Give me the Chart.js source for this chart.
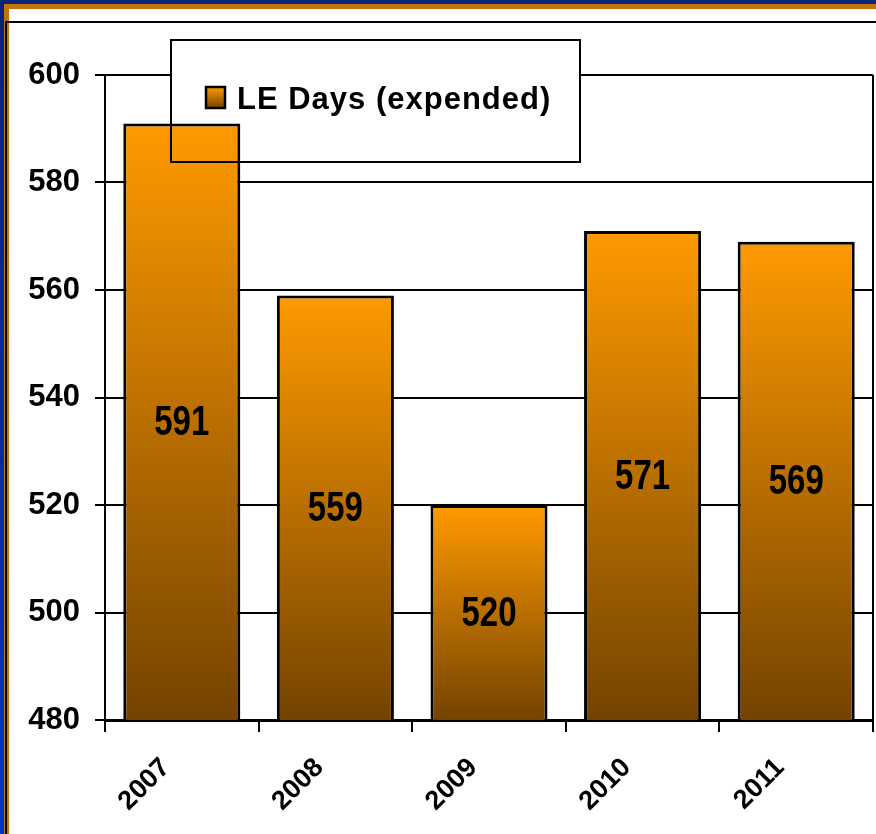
<!DOCTYPE html>
<html><head><meta charset="utf-8">
<script src="https://cdn.jsdelivr.net/npm/chart.js@4/dist/chart.umd.min.js"></script>
<style>html,body{margin:0;padding:0;background:#fff;overflow:hidden}canvas{display:block}</style>
</head><body>
<canvas id="c" width="876" height="834"></canvas>
<script>
const categories = ['2007', '2008', '2009', '2010', '2011'];
const leDays = [591, 559, 520, 571, 569];
const seriesLabel = 'LE Days (expended)';
const yMin = 480, yMax = 600, yStep = 20;

const FONT = '"Liberation Sans", Arial, sans-serif';

function barGradient(ctx, top, bottom) {
  const g = ctx.createLinearGradient(0, top, 0, bottom);
  g.addColorStop(0, '#FF9A00');
  g.addColorStop(1, '#744300');
  return g;
}

const framePlugin = {
  id: 'frame',
  beforeDraw(chart) {
    const ctx = chart.ctx, W = chart.width, H = chart.height;
    ctx.save();
    ctx.fillStyle = '#fff'; ctx.fillRect(0, 0, W, H);
    ctx.fillStyle = '#c27208'; ctx.fillRect(0, 0, W, 9); ctx.fillRect(0, 0, 9, H);
    ctx.fillStyle = '#0b2377'; ctx.fillRect(0, 0, W, 4);
    const lg = ctx.createLinearGradient(0, 0, 0, H);
    lg.addColorStop(0, '#0b2377'); lg.addColorStop(1, '#0036cc');
    ctx.fillStyle = lg; ctx.fillRect(0, 0, 4, H);
    ctx.fillStyle = '#000'; ctx.fillRect(5, 21, W - 5, 2); ctx.fillRect(5, 21, 2, H - 21);
    ctx.restore();
  }
};

const legendBox = { x: 171, y: 40, w: 409, h: 122 };

const overlayPlugin = {
  id: 'overlay',
  beforeDatasetsDraw(chart) {
    const ctx = chart.ctx, a = chart.chartArea;
    ctx.save();
    ctx.strokeStyle = '#000'; ctx.lineWidth = 2;
    ctx.beginPath(); ctx.moveTo(a.right, a.top); ctx.lineTo(a.right, a.bottom); ctx.stroke();
    ctx.fillStyle = '#fff';
    ctx.fillRect(legendBox.x, legendBox.y, legendBox.w, legendBox.h);
    ctx.restore();
  },
  afterDatasetsDraw(chart) {
    const ctx = chart.ctx;
    ctx.save();
    ctx.strokeStyle = '#000'; ctx.lineWidth = 2;
    ctx.strokeRect(legendBox.x, legendBox.y, legendBox.w, legendBox.h);
    const sx = 206, sy = 87, sw = 19, sh = 21;
    ctx.fillStyle = barGradient(ctx, sy, sy + sh);
    ctx.fillRect(sx, sy, sw, sh);
    ctx.lineWidth = 2.5;
    ctx.strokeRect(sx, sy, sw, sh);
    ctx.fillStyle = '#000';
    ctx.font = 'bold 31px ' + FONT;
    ctx.textBaseline = 'alphabetic';
    ctx.textAlign = 'left';
    if ('letterSpacing' in ctx) ctx.letterSpacing = '1px';
    ctx.fillText(chart.data.datasets[0].label, 237, 109);
    if ('letterSpacing' in ctx) ctx.letterSpacing = '0px';
    ctx.restore();
  },
  afterDraw(chart) {
    const ctx = chart.ctx;
    const xs = chart.scales.x, ys = chart.scales.y;
    const vals = chart.data.datasets[0].data;
    ctx.save();
    ctx.fillStyle = '#000';
    ctx.font = 'bold 33px ' + FONT;
    ctx.textAlign = 'center';
    ctx.textBaseline = 'middle';
    for (let i = 0; i < vals.length; i++) {
      const x = xs.getPixelForValue(i);
      const yTop = ys.getPixelForValue(vals[i]);
      const yBase = ys.getPixelForValue(yMin);
      const yc = (yTop + yBase) / 2;
      ctx.save();
      ctx.translate(x, yc);
      ctx.scale(1, 1.3);
      ctx.fillText(String(vals[i]), 0, 1);
      ctx.restore();
    }
    ctx.restore();
  }
};

new Chart(document.getElementById('c'), {
  type: 'bar',
  data: {
    labels: categories,
    datasets: [{
      label: seriesLabel,
      data: leDays,
      backgroundColor(c) {
        const chart = c.chart;
        if (!chart.chartArea || c.raw === undefined) return '#E08800';
        const ys = chart.scales.y;
        return barGradient(chart.ctx, ys.getPixelForValue(c.raw), ys.getPixelForValue(yMin));
      },
      borderColor: '#000',
      borderWidth: 3,
      barPercentage: 0.762,
      categoryPercentage: 1
    }]
  },
  options: {
    responsive: false,
    devicePixelRatio: 1,
    animation: false,
    layout: { padding: { top: 75, right: 3, left: 0, bottom: 0 } },
    plugins: { legend: { display: false }, tooltip: { enabled: false } },
    scales: {
      x: {
        grid: { display: true, drawOnChartArea: false, drawTicks: true, tickLength: 12, color: '#000', lineWidth: 2, offset: true },
        border: { display: true, color: '#000', width: 3 },
        ticks: { color: '#000', font: { family: FONT, weight: 'bold', size: 27 }, maxRotation: 45, minRotation: 45, padding: 20, labelOffset: -16, autoSkip: false },
        afterFit(s) { s.height = 114; }
      },
      y: {
        min: yMin, max: yMax,
        grid: { color: '#000', lineWidth: 2, tickLength: 10, drawTicks: true },
        border: { display: true, color: '#000', width: 2 },
        ticks: { stepSize: yStep, color: '#000', font: { family: FONT, weight: 'bold', size: 31 }, padding: 15 },
        afterFit(s) { s.width = 105; }
      }
    }
  },
  plugins: [framePlugin, overlayPlugin]
});
</script>
</body></html>
